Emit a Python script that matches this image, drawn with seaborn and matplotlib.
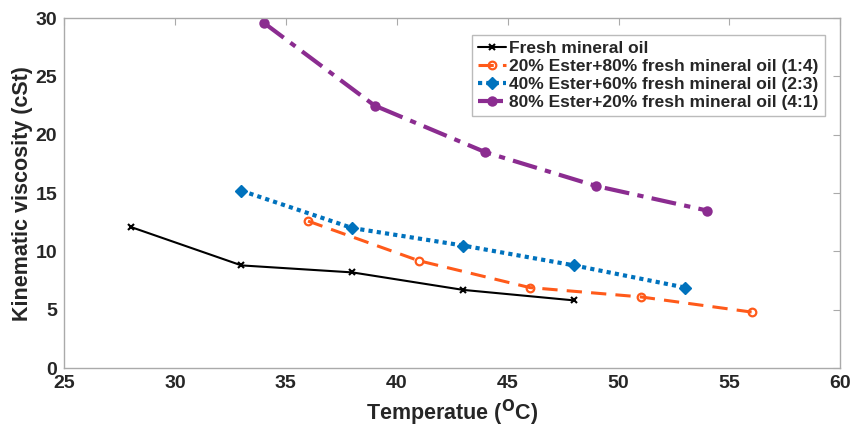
import pandas as pd
import seaborn as sns
import matplotlib.pyplot as plt

temp_fresh = [28, 33, 38, 43, 48]
visc_fresh = [12.1, 8.8, 8.2, 6.7, 5.8]

temp_20 = [36, 41, 46, 51, 56]
visc_20 = [12.6, 9.2, 6.9, 6.1, 4.8]

temp_40 = [33, 38, 43, 48, 53]
visc_40 = [15.2, 12.0, 10.5, 8.8, 6.9]

temp_80 = [34, 39, 44, 49, 54]
visc_80 = [29.6, 22.5, 18.5, 15.6, 13.5]

labels = ['Fresh mineral oil',
          '20% Ester+80% fresh mineral oil (1:4)',
          '40% Ester+60% fresh mineral oil (2:3)',
          '80% Ester+20% fresh mineral oil (4:1)']

sns.set_style('white')
plt.rcParams['font.family'] = ['Liberation Sans', 'DejaVu Sans']
plt.rcParams['font.weight'] = 'bold'

fig = plt.figure(figsize=(8.54, 4.30), dpi=100)
ax = fig.add_axes([0.075, 0.144, 0.909, 0.814])

orange = '#FF5A1A'
blue = '#0072BD'
purple = '#8B2C90'

series = [
    (temp_fresh, visc_fresh, dict(color='black', linestyle='-', linewidth=1.5, marker='x', markersize=4,
                                  markeredgewidth=1.5, markeredgecolor='black')),
    (temp_20, visc_20, dict(color=orange, linestyle=(0, (5, 3)), linewidth=2.2, marker='o', markersize=5.5,
                            markerfacecolor='none', markeredgecolor=orange, markeredgewidth=1.6)),
    (temp_40, visc_40, dict(color=blue, linestyle=(0, (1, 1)), linewidth=3, marker='D', markersize=6.5,
                            markeredgewidth=1, markeredgecolor=blue)),
    (temp_80, visc_80, dict(color=purple, linestyle=(0, (6, 2, 1.5, 2)), linewidth=3, marker='o', markersize=7.5,
                            markeredgewidth=0, markeredgecolor=purple)),
]

for (x, y, style), lab in zip(series, labels):
    df = pd.DataFrame({'Temperature': x, 'Viscosity': y})
    sns.lineplot(data=df, x='Temperature', y='Viscosity', ax=ax, label=lab, **style)

ax.set_xlim(25, 60)
ax.set_ylim(0, 30)
ax.set_xticks(range(25, 61, 5))
ax.set_yticks(range(0, 31, 5))
ax.tick_params(axis='both', direction='in', length=5, color='#AAAAAA', labelsize=14,
               top=True, right=True, pad=5)
for lbl in ax.get_xticklabels() + ax.get_yticklabels():
    lbl.set_fontweight('bold')
    lbl.set_color('#262626')
for s in ax.spines.values():
    s.set_color('#AAAAAA')
    s.set_linewidth(1)

ax.set_xlabel('Temperatue ($\\mathbf{^{O}}$C)', fontsize=15.5, fontweight='bold', color='#262626', labelpad=4)
ax.set_ylabel('Kinematic viscosity (cSt)', fontsize=15.5, fontweight='bold', color='#262626', labelpad=2)

leg = ax.legend(loc='upper right', bbox_to_anchor=(0.980, 0.951), borderaxespad=0,
                prop={'weight': 'bold', 'size': 12.5}, frameon=True, fancybox=False,
                handlelength=1.6, handletextpad=0.2, borderpad=0.35, labelspacing=0.15)
leg.get_frame().set_edgecolor('#AAAAAA')
leg.get_frame().set_linewidth(1)

fig.savefig('out.png', dpi=100)
